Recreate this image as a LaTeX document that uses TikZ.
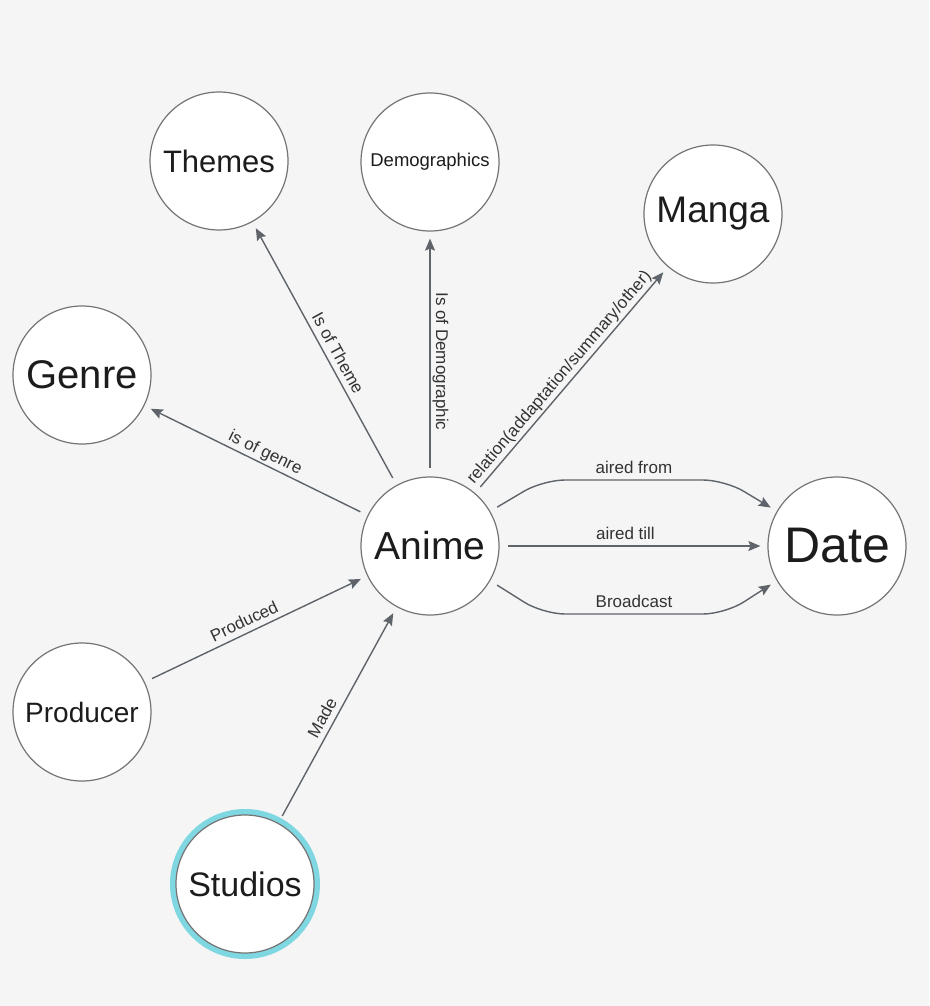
\documentclass[tikz,border=0pt]{standalone}
\usepackage{fontspec}
\setmainfont{Liberation Sans}
\usetikzlibrary{arrows.meta}
\definecolor{bg}{HTML}{F4F5F4}
\definecolor{ringc}{HTML}{7FD7E1}
\definecolor{edgec}{HTML}{5F646B}
\definecolor{circ}{HTML}{747474}
\definecolor{txt}{HTML}{1C1C1C}
\definecolor{lbl}{HTML}{333333}
\newcommand{\fs}[1]{\fontsize{#1}{#1}\selectfont}
\begin{document}
\begin{tikzpicture}[x=1pt,y=-1pt,
  >={Stealth[length=12pt,width=10pt,inset=2pt]},
  ent/.style={circle, draw=circ, line width=1.2pt, fill=white, minimum size=138pt, inner sep=0pt, text=txt},
  ringed/.style={preaction={draw=ringc, line width=12pt}},
  relf/.style={draw=edgec, line width=1.4pt, ->, shorten <=8pt, shorten >=7pt},
  relb/.style={draw=edgec, line width=1.4pt, <-, shorten >=8pt, shorten <=7pt},
  lab/.style={font=\fs{17}, text=lbl, inner sep=2pt, text depth=3.5pt, sloped, above}]
\fill[bg] (0,0) rectangle (929,1006);
\useasboundingbox (0,0) rectangle (929,1006);

\node[ent, font=\fs{31}] (themes) at (219,161) {Themes};
\node[ent, font=\fs{18.5}] (demo) at (430,162) {Demographics};
\node[ent, font=\fs{37}] (manga) at (713,214) {Manga};
\node[ent, font=\fs{40}] (genre) at (82,375) {Genre};
\node[ent, font=\fs{39}] (anime) at (430,546) {Anime};
\node[ent, font=\fs{50}] (date) at (837,546) {Date};
\node[ent, font=\fs{28}] (producer) at (82,712) {Producer};
\node[ent, ringed, font=\fs{34}] (studios) at (245,884) {Studios};

\coordinate (af1) at (543,480);
\coordinate (af2) at (725,480);
\coordinate (bc1) at (543,614);
\coordinate (bc2) at (725,614);

\draw[relf] (anime) -- node[lab, pos=0.48]{Is of Theme} (themes);
\draw[relb] (demo) -- node[lab, pos=0.53]{Is of Demographic} (anime);
\draw[relf] (anime) -- node[lab, pos=0.48]{relation(addaptation/summary/other)} (manga);
\draw[relf] (anime) -- node[lab, pos=0.48]{is of genre} (genre);
\draw[relf] (producer) -- node[lab, pos=0.47]{Produced} (anime);
\draw[relf] (studios) -- node[lab, pos=0.46]{Made} (anime);
\draw[relf] (anime) -- node[lab, pos=0.47]{aired till} (date);
\draw[relf, rounded corners=22pt] (anime.30) -- (af1) -- node[lab]{aired from} (af2) -- (date.150);
\draw[relf, rounded corners=22pt] (anime.-30) -- (bc1) -- node[lab]{Broadcast} (bc2) -- (date.-150);
\end{tikzpicture}
\end{document}
